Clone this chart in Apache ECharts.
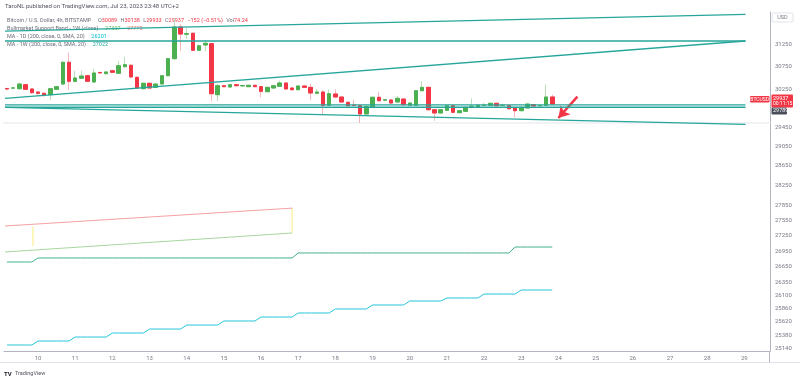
<!DOCTYPE html>
<html>
<head>
<meta charset="utf-8">
<script src="https://cdn.jsdelivr.net/npm/echarts@6/dist/echarts.min.js"></script>
<style>
    body { margin: 0; background: #fff; }
    #main { width: 800px; height: 378px; }
</style>
</head>
<body>
<div id="main"></div>
<script>
// BTCUSD 4h, Bitstamp — 9 Jul 04:00 .. 23 Jul 20:00 (UTC+2)
var firstCandleDay = 9 + 4 / 24;
var candleStepDay = 4 / 24;

var opens = [30271, 30280, 30267, 30354, 30261, 30196, 30168, 30138, 30254, 30369,
    30844, 30428, 30494, 30550, 30413, 30620, 30594, 30659, 30602, 30747,
    30778, 30515, 30267, 30385, 30297, 30369, 30550, 30924, 31632, 31470,
    31490, 31110, 31228, 31257, 30138, 30332, 30304, 30354, 30328, 30311,
    30341, 30311, 30202, 30282, 30319, 30391, 30282, 30245, 30326, 30297,
    30168, 30196, 29910, 30153, 30088, 29974, 29912, 29901, 29725, 29867,
    30082, 30020, 30024, 29981, 30045, 29910, 29910, 30224, 30297, 29816,
    29746, 29803, 29901, 29752, 29782, 29885, 29867, 29908, 29910, 29953,
    29906, 29901, 29852, 29795, 29852, 29923, 29900, 29910, 30089];
var highs = [30290, 30300, 30400, 30380, 30275, 30205, 30180, 30280, 30330, 30870,
    31057, 30660, 30660, 30570, 30700, 30640, 30650, 30680, 30866, 30961,
    30800, 30530, 30400, 30400, 30385, 30570, 30945, 31836, 31700, 31600,
    31510, 31230, 31340, 31280, 30376, 30345, 30370, 30365, 30350, 30355,
    30355, 30325, 30310, 30345, 30441, 30400, 30295, 30340, 30335, 30370,
    30260, 30230, 30250, 30250, 30100, 29990, 30030, 29920, 29900, 30100,
    30200, 30045, 30040, 30110, 30060, 29970, 30235, 30428, 30310, 29830,
    29830, 29915, 29915, 29810, 29880, 30060, 29925, 29960, 29965, 29965,
    29920, 29915, 29865, 29880, 29950, 29935, 29915, 30354, 30138];
var lows = [30245, 30265, 30240, 30240, 30160, 30110, 30090, 30024, 30240, 30350,
    30245, 30410, 30480, 30410, 30395, 30590, 30580, 30610, 30590, 30730,
    30500, 30265, 30250, 30265, 30280, 30355, 30530, 30890, 31094, 31370,
    31090, 31095, 31087, 30002, 30002, 30300, 30290, 30320, 30315, 30300,
    30300, 30082, 30190, 30270, 30305, 30245, 30235, 30235, 30285, 30030,
    30155, 29710, 29895, 30075, 29965, 29885, 29895, 29535, 29710, 29850,
    29995, 30005, 29945, 29970, 29905, 29895, 29900, 30215, 29800, 29583,
    29735, 29790, 29745, 29740, 29770, 29870, 29855, 29900, 29900, 29890,
    29895, 29825, 29655, 29785, 29840, 29885, 29890, 29900, 29933];
var closes = [30261, 30284, 30369, 30254, 30181, 30168, 30125, 30267, 30311, 30844,
    30428, 30500, 30543, 30428, 30609, 30612, 30631, 30624, 30769, 30791,
    30522, 30282, 30385, 30282, 30369, 30550, 30924, 31632, 31473, 31480,
    31110, 31212, 31266, 30159, 30332, 30311, 30354, 30332, 30336, 30341,
    30311, 30211, 30297, 30332, 30391, 30261, 30245, 30326, 30297, 30174,
    30196, 29910, 30159, 30088, 29981, 29901, 29908, 29725, 29889, 30082,
    30009, 30028, 29959, 30060, 29923, 29959, 30224, 30297, 29816, 29746,
    29816, 29901, 29761, 29795, 29867, 29890, 29910, 29912, 29953, 29901,
    29910, 29837, 29795, 29867, 29937, 29895, 29905, 30088, 29937];

var dayTicks = [10, 11, 12, 13, 14, 15, 16, 17, 18, 19, 20, 21, 22, 23, 24, 25, 26, 27, 28, 29];
var priceTicks = [31250, 30750, 30250, 29450, 29050, 28650, 28250, 27850, 27550, 27250,
    26950, 26650, 26350, 26100, 25860, 25620, 25380, 25140];

// drawn trend lines, [day of July, price]
var trendLines = [
    [[9.112, 31537], [29.031, 31921]],
    [[9.112, 31317], [29.031, 31317]],
    [[9.112, 30060], [29.031, 31317]],
    [[9.112, 29920], [29.031, 29920]],
    [[9.112, 29869], [29.031, 29869]],
    [[9.112, 29864], [29.031, 29507]]
];
var greyLine = [[9.0, 29535], [29.9, 29535]];
var arrowFrom = [24.509, 30095];
var arrowTo = [23.997, 29640];

// Bullmarket Support Band (1W)
var bandSma = [[9.112, 26933], [16.837, 27301]];
var bandEma = [[9.112, 27438], [16.837, 27791]];
var bandEdges = [
    [[9.865, 27430], [9.865, 27048]],
    [[16.837, 27791], [16.837, 27301]]
];

// MA values held per period: [start day, value]
var ma1dSteps = [[9, 25201], [10, 25273], [11, 25345], [12, 25418], [13, 25490], [14, 25563],
    [15, 25637], [16, 25710], [17, 25784], [18, 25858], [19, 25932], [20, 26006],
    [21, 26062], [22, 26136], [23, 26211]];
var ma1wSteps = [[9, 26741], [10, 26818], [17, 26914], [22.83, 27029]];

var lastClose = 29937;
var greyTag = 29789;

var candleDays = opens.map(function (o, i) { return firstCandleDay + i * candleStepDay; });
var wickData = opens.map(function (o, i) {
    return [candleDays[i], o, closes[i], lows[i], highs[i]];
});
var bodyData = opens.map(function (o, i) {
    return [candleDays[i], o, closes[i], Math.min(o, closes[i]), Math.max(o, closes[i])];
});

function stepValue(steps, day) {
    var v = steps[0][1];
    steps.forEach(function (s) {
        if (day >= s[0] - 1e-6) v = s[1];
    });
    return v;
}
var ma1dLine = candleDays.map(function (d) { return [d, stepValue(ma1dSteps, d)]; });
var ma1wLine = candleDays.map(function (d) { return [d, stepValue(ma1wSteps, d)]; });

var teal = '#26a69a';
var upColor = '#4caf50';
var downColor = '#f23645';
var axisText = '#787b86';
var font = 'Roboto';

var chart = echarts.init(document.getElementById('main'));

var series = [
    {
        type: 'candlestick',
        data: wickData,
        encode: {x: 0, y: [1, 2, 3, 4]},
        barWidth: 4,
        itemStyle: {
            color: '#b9dfba', color0: '#f7b6bb',
            borderColor: '#b9dfba', borderColor0: '#f7b6bb', borderWidth: 1
        },
        silent: true, z: 2
    },
    {
        type: 'candlestick',
        data: bodyData,
        encode: {x: 0, y: [1, 2, 3, 4]},
        barWidth: 4,
        itemStyle: {
            color: upColor, color0: downColor,
            borderColor: upColor, borderColor0: downColor, borderWidth: 1
        },
        silent: true, z: 3
    },
    {
        type: 'line', data: greyLine, symbol: 'none', silent: true, z: 1,
        lineStyle: {color: '#e3e5ea', width: 1}
    },
    {
        type: 'line', data: bandEma, symbol: 'none', silent: true, z: 4,
        lineStyle: {color: '#f7a1a6', width: 1}
    },
    {
        type: 'line', data: bandSma, symbol: 'none', silent: true, z: 4,
        lineStyle: {color: '#a8d8a0', width: 1}
    },
    {
        type: 'line', data: ma1wLine, symbol: 'none', silent: true, z: 4,
        lineStyle: {color: '#43b28e', width: 1}
    },
    {
        type: 'line', data: ma1dLine, symbol: 'none', silent: true, z: 4,
        lineStyle: {color: '#26c6da', width: 1}
    },
    {
        type: 'line', data: [], symbol: 'none', silent: true, z: 6,
        markLine: {
            silent: true,
            symbol: ['none', 'arrow'],
            symbolSize: [10, 11],
            label: {show: false},
            lineStyle: {color: '#f23645', width: 2.5, type: 'solid'},
            data: [[{coord: arrowFrom}, {coord: arrowTo}]]
        }
    }
];
bandEdges.forEach(function (l) {
    series.push({
        type: 'line', data: l, symbol: 'none', silent: true, z: 3,
        lineStyle: {color: '#fbf3a6', width: 1.5}
    });
});
trendLines.forEach(function (l) {
    series.push({
        type: 'line', data: l, symbol: 'none', silent: true, z: 5,
        lineStyle: {color: teal, width: 1.3}
    });
});

chart.setOption({
    animation: false,
    backgroundColor: '#ffffff',
    grid: {left: 4, right: 30, top: 12, bottom: 27},
    xAxis: {
        type: 'value',
        min: 9.085,
        max: 29.69,
        axisLine: {show: true, lineStyle: {color: '#b2b5be', width: 1}},
        axisTick: {show: false},
        splitLine: {show: false},
        axisLabel: {
            customValues: dayTicks,
            formatter: function (v) { return String(Math.round(v)); },
            color: axisText, fontSize: 6, fontFamily: font, margin: 4
        }
    },
    yAxis: {
        type: 'log',
        logBase: 10,
        position: 'right',
        min: 25093,
        max: 31973,
        axisLine: {show: true, lineStyle: {color: '#b2b5be', width: 1}},
        axisTick: {show: false},
        splitLine: {show: false},
        axisLabel: {
            customValues: priceTicks,
            formatter: function (v) { return String(Math.round(v)); },
            color: axisText, fontSize: 6, fontFamily: font, margin: 5
        }
    },
    series: series
});

// price tags on the right axis, placed through the y scale
var yClose = chart.convertToPixel({yAxisIndex: 0}, lastClose);
var yGrey = chart.convertToPixel({yAxisIndex: 0}, greyTag);

var gray = '#6a6d78';
chart.setOption({
    graphic: [
        {type: 'text', left: 5, top: 3, style: {text: 'TaroNL published on TradingView.com, Jul 23, 2023 23:48 UTC+2', fill: '#50535e', font: '6px Roboto'}},
        {type: 'text', left: 7, top: 15, style: {
            text: '{g|Bitcoin / U.S. Dollar, 4h, BITSTAMP}  {g|O}{r|30089} {g|H}{r|30138} {g|L}{r|29933} {g|C}{r|29937} {r|\u2212152 (\u22120.51%)} {g|Vol}{r|74.24}',
            rich: {
                g: {fill: gray, font: '5.5px Roboto'},
                r: {fill: '#f23645', font: '5.5px Roboto'}
            }
        }},
        {type: 'text', left: 7, top: 23, style: {
            text: '{g|Bullmarket Support Band - 1W (close)}  {gr|27307}  {rd|27775}',
            rich: {
                g: {fill: gray, font: '5.5px Roboto'},
                gr: {fill: '#66bb6a', font: '5.5px Roboto'},
                rd: {fill: '#f77c80', font: '5.5px Roboto'}
            }
        }},
        {type: 'text', left: 7, top: 31, style: {
            text: '{g|MA - 1D (200, close, 0, SMA, 20)}  {c|26201}',
            rich: {
                g: {fill: gray, font: '5.5px Roboto'},
                c: {fill: '#00bcd4', font: '5.5px Roboto'}
            }
        }},
        {type: 'text', left: 7, top: 39, style: {
            text: '{g|MA - 1W (200, close, 0, SMA, 20)}  {c|27022}',
            rich: {
                g: {fill: gray, font: '5.5px Roboto'},
                c: {fill: '#26a69a', font: '5.5px Roboto'}
            }
        }},
        // USD box
        {type: 'rect', shape: {x: 772, y: 13, width: 21, height: 9, r: 1}, style: {fill: '#fff', stroke: '#e0e3eb', lineWidth: 1}},
        {type: 'text', x: 782.5, y: 17.5, style: {text: 'USD', fill: axisText, font: '5.5px Roboto', align: 'center', verticalAlign: 'middle'}},
        // BTCUSD + last price tags
        {type: 'rect', shape: {x: 750, y: yClose - 8, width: 19.5, height: 6.5, r: 1}, style: {fill: '#f23645'}},
        {type: 'text', x: 759.7, y: yClose - 4.7, style: {text: 'BTCUSD', fill: '#fff', font: '5px Roboto', align: 'center', verticalAlign: 'middle'}},
        {type: 'rect', shape: {x: 771.5, y: yClose - 9.5, width: 21.5, height: 13, r: 1}, style: {fill: '#f23645'}},
        {type: 'text', x: 773, y: yClose - 5.5, style: {text: String(lastClose), fill: '#fff', font: '5.5px Roboto', verticalAlign: 'middle'}},
        {type: 'text', x: 773, y: yClose - 0.2, style: {text: '00:11:15', fill: '#fff', font: '5px Roboto', verticalAlign: 'middle'}},
        {type: 'rect', shape: {x: 771.5, y: yGrey - 3.5, width: 15.5, height: 7, r: 1}, style: {fill: '#4a4e5a'}},
        {type: 'text', x: 773, y: yGrey, style: {text: String(greyTag), fill: '#fff', font: '5.5px Roboto', verticalAlign: 'middle'}},
        // bottom frame
        {type: 'line', shape: {x1: 0, y1: 362.5, x2: 800, y2: 362.5}, style: {stroke: '#e0e3eb', lineWidth: 1}},
        {type: 'line', shape: {x1: 769.5, y1: 351, x2: 769.5, y2: 362.5}, style: {stroke: '#b2b5be', lineWidth: 1}},
        {type: 'text', left: 4, top: 368, style: {text: '{b|TV} {t|TradingView}', rich: {
            b: {fill: '#131722', font: 'bold 6px Roboto'},
            t: {fill: '#50535e', font: '5.5px Roboto'}
        }}}
    ]
});
</script>
</body>
</html>
